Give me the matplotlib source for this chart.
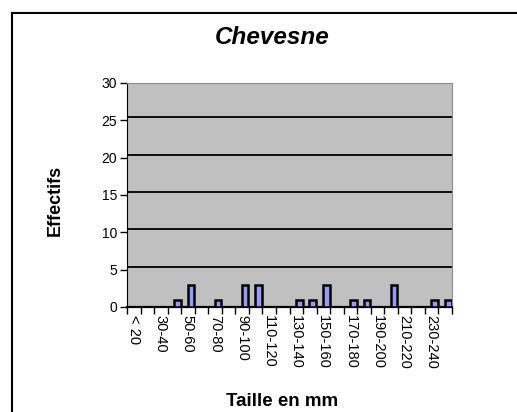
import matplotlib.pyplot as plt
import matplotlib.transforms as mtransforms
from matplotlib.lines import Line2D
import numpy as np

plt.rcParams['font.family'] = 'Liberation Sans'

# size classes (mm) and counts
classes = ["< 20", "20-30", "30-40", "40-50", "50-60", "60-70", "70-80", "80-90",
           "90-100", "100-110", "110-120", "120-130", "130-140", "140-150",
           "150-160", "160-170", "170-180", "180-190", "190-200", "200-210",
           "210-220", "220-230", "230-240", "240-250"]
effectifs = [0, 0, 0, 1, 3, 0, 1, 0, 3, 3, 0, 0, 1, 1, 3, 0, 1, 1, 0, 3, 0, 0, 1, 1]
y_ticks = [0, 5, 10, 15, 20, 25, 30]

W, H = 517, 412
fig = plt.figure(figsize=(W / 100, H / 100), dpi=100)

# chart frame (left and top edges visible)
fig.add_artist(Line2D([12 / W, 12 / W], [0, 1 - 13 / H], color='black', lw=1.5,
                      transform=fig.transFigure))
fig.add_artist(Line2D([12 / W, 1], [1 - 13 / H, 1 - 13 / H], color='black', lw=1.5,
                      transform=fig.transFigure))

x0, x1, ytop, ybot = 127, 452, 83, 307
ax = fig.add_axes([x0 / W, 1 - ybot / H, (x1 - x0) / W, (ybot - ytop) / H])
ax.set_facecolor('#c0c0c0')

# slight depth offset like the 3D excel chart
shift = mtransforms.ScaledTranslation(3 / 100, 0, fig.dpi_scale_trans)
x = np.arange(len(classes))
bars = ax.bar(x, effectifs, width=0.5, color='#9999ff', edgecolor='black', lw=1.8, zorder=3)
for b in bars:
    b.set_transform(ax.transData + shift)

ax.set_xlim(-0.5, len(classes) - 0.5)
ax.set_ylim(0, 30)
up = mtransforms.ScaledTranslation(0, 3 / 100, fig.dpi_scale_trans)
for v in y_ticks[1:-1]:
    ax.plot([0, 1], [v, v], color='black', lw=1.3, zorder=1,
            transform=ax.get_yaxis_transform() + up)

for side in ['top', 'right']:
    ax.spines[side].set_color('#8c8c8c')
ax.spines['left'].set_color('black')
ax.spines['bottom'].set_color('black')
ax.spines['bottom'].set_linewidth(1.6)

ax.set_yticks(y_ticks)
ax.tick_params(axis='y', length=5, width=1, labelsize=10, pad=2)

ax.set_xticks(x[::2])
ax.set_xticklabels(classes[::2], rotation=270, fontsize=10.5)
ax.set_xticks(np.arange(len(classes) + 1) - 0.5, minor=True)
ax.tick_params(axis='x', which='major', length=0, pad=6)
ax.tick_params(axis='x', which='minor', length=5, width=1)

fig.text(272 / W, 1 - 38 / H, "Chevesne", fontsize=17.5, fontweight='bold', style='italic',
         ha='center', va='center')
fig.text(55 / W, 1 - 200 / H, "Effectifs", fontsize=13, fontweight='bold', rotation=90,
         ha='center', va='center')
fig.text(282 / W, 1 - 401 / H, "Taille en mm", fontsize=13.5, fontweight='bold',
         ha='center', va='center')

fig.savefig("out.png", dpi=100)
